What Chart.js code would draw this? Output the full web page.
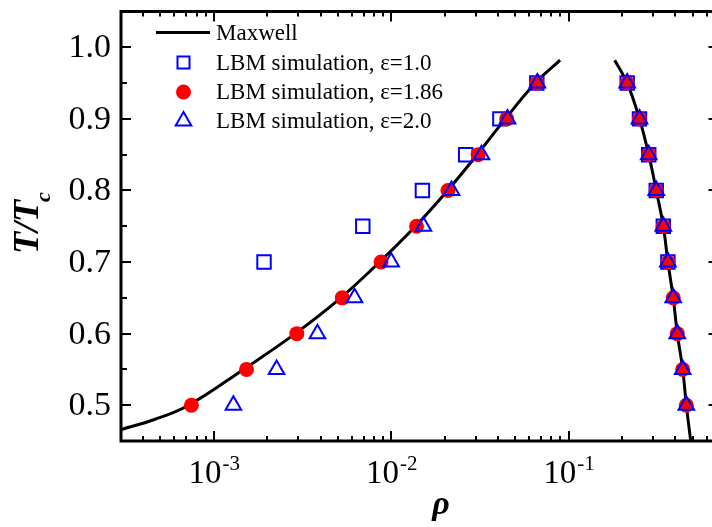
<!DOCTYPE html>
<html>
<head>
<meta charset="utf-8">
<script src="https://cdn.jsdelivr.net/npm/chart.js@4.4.0/dist/chart.umd.min.js"></script>
<style>
  html, body { margin: 0; padding: 0; background: #fff; overflow: hidden; }
  #wrap { width: 712px; height: 527px; overflow: hidden; }
  #coex { display: block; }
</style>
</head>
<body>
<div id="wrap"><canvas id="coex" width="730" height="527" style="width:730px;height:527px"></canvas></div>
<script>
// reduced temperature levels of the simulations
const T_LEVELS = [0.50, 0.55, 0.60, 0.65, 0.70, 0.75, 0.80, 0.85, 0.90, 0.95];
const T_LEVELS_EPS10 = [0.70, 0.75, 0.80, 0.85, 0.90, 0.95];

// liquid-side densities (all three runs sit on top of each other)
const RHO_LIQUID = [0.461, 0.440, 0.410, 0.389, 0.363, 0.342, 0.312, 0.283, 0.251, 0.214];
const RHO_LIQUID_EPS10 = [0.363, 0.342, 0.312, 0.283, 0.251, 0.214];

// vapor-side densities
const RHO_VAPOR_EPS10 = [1.92e-3, 6.92e-3, 1.50e-2, 2.63e-2, 4.10e-2, 6.62e-2];
const RHO_VAPOR_EPS186 = [7.48e-4, 1.53e-3, 2.94e-3, 5.30e-3, 8.77e-3, 1.39e-2, 2.09e-2, 3.09e-2, 4.48e-2, 6.62e-2];
const RHO_VAPOR_EPS20 = [1.29e-3, 2.26e-3, 3.84e-3, 6.22e-3, 1.00e-2, 1.52e-2, 2.19e-2, 3.23e-2, 4.53e-2, 6.67e-2];

// Maxwell construction, two branches
const MAXWELL_VAPOR_RHO = [3.0e-4, 4.63e-4, 7.22e-4, 1.47e-3, 2.88e-3, 5.20e-3, 8.60e-3, 1.37e-2, 2.08e-2, 3.05e-2, 4.40e-2, 6.50e-2, 8.96e-2];
const MAXWELL_VAPOR_T = [0.466, 0.480, 0.50, 0.55, 0.60, 0.65, 0.70, 0.75, 0.80, 0.85, 0.90, 0.95, 0.982];
const MAXWELL_LIQUID_RHO = [0.182, 0.214, 0.251, 0.283, 0.312, 0.342, 0.363, 0.389, 0.410, 0.440, 0.461, 0.488];
const MAXWELL_LIQUID_T = [0.982, 0.95, 0.90, 0.85, 0.80, 0.75, 0.70, 0.65, 0.60, 0.55, 0.50, 0.45];

// axis ticks
const X_MAJOR = [1e-3, 1e-2, 1e-1];
const X_EXP = ['-3', '-2', '-1'];
const Y_MAJOR = [0.5, 0.6, 0.7, 0.8, 0.9, 1.0];
const Y_MINOR = [0.55, 0.65, 0.75, 0.85, 0.95];

const LEGEND_LABELS = ['Maxwell', 'LBM simulation, \u03b5=1.0', 'LBM simulation, \u03b5=1.86', 'LBM simulation, \u03b5=2.0'];

const SERIF = '"Liberation Serif", "Times New Roman", serif';
const BLUE = '#0000ff';
const RED = '#ff0000';

function pts(xs, ys) {
  return xs.map((x, i) => ({ x, y: ys[i] }));
}

function both(vapor, liquid, tv, tl) {
  return pts(vapor, tv).concat(pts(liquid, tl));
}

const markerSets = [
  { label: LEGEND_LABELS[1], data: both(RHO_VAPOR_EPS10, RHO_LIQUID_EPS10, T_LEVELS_EPS10, T_LEVELS_EPS10),
    pointStyle: 'rect', pointRadius: 9.5, pointBorderWidth: 2, pointBorderColor: BLUE, pointBackgroundColor: 'rgba(0,0,0,0)', order: 3 },
  { label: LEGEND_LABELS[2], data: both(RHO_VAPOR_EPS186, RHO_LIQUID, T_LEVELS, T_LEVELS),
    pointStyle: 'circle', pointRadius: 7.5, pointBorderWidth: 0, pointBorderColor: RED, pointBackgroundColor: RED, order: 2 },
  { label: LEGEND_LABELS[3], data: both(RHO_VAPOR_EPS20, RHO_LIQUID, T_LEVELS, T_LEVELS),
    pointStyle: 'triangle', pointRadius: 9, pointBorderWidth: 2, pointBorderColor: BLUE, pointBackgroundColor: 'rgba(0,0,0,0)', order: 1 },
];

const curve = (data) => ({
  type: 'line', data, borderColor: '#000', borderWidth: 3, pointRadius: 0,
  tension: 0.4, fill: false, order: 4,
});

// frame, inward ticks, tick labels, axis titles and the legend
const frame = {
  id: 'frame',
  afterDraw(chart) {
    const { ctx, chartArea: a, scales: { x, y } } = chart;
    ctx.save();
    ctx.strokeStyle = '#000';
    ctx.fillStyle = '#000';

    ctx.lineWidth = 2;
    ctx.beginPath();
    for (let e = -4; e <= 0; e++) {
      for (let m = 1; m <= 9; m++) {
        const v = m * Math.pow(10, e);
        if (v < x.min || v > x.max) continue;
        const px = Math.round(x.getPixelForValue(v));
        const len = m === 1 ? 10 : 5;
        ctx.moveTo(px, a.bottom); ctx.lineTo(px, a.bottom - len);
        ctx.moveTo(px, a.top); ctx.lineTo(px, a.top + len);
      }
    }
    Y_MAJOR.concat(Y_MINOR).forEach(v => {
      const py = Math.round(y.getPixelForValue(v));
      const len = Y_MAJOR.includes(v) ? 10 : 6;
      ctx.moveTo(a.left, py); ctx.lineTo(a.left + len, py);
      ctx.moveTo(a.right, py); ctx.lineTo(a.right - len, py);
    });
    ctx.stroke();

    ctx.lineWidth = 3;
    ctx.strokeRect(a.left, a.top, a.right - a.left, a.bottom - a.top);

    // y tick labels
    ctx.font = '34px ' + SERIF;
    ctx.textAlign = 'right';
    ctx.textBaseline = 'middle';
    Y_MAJOR.forEach(v => ctx.fillText(v.toFixed(1), a.left - 10, y.getPixelForValue(v) + 1));

    // x tick labels, 10 with a raised exponent
    ctx.textAlign = 'left';
    ctx.textBaseline = 'alphabetic';
    X_MAJOR.forEach((v, i) => {
      const px = x.getPixelForValue(v);
      ctx.font = '33px ' + SERIF;
      const wb = ctx.measureText('10').width;
      ctx.font = '21px ' + SERIF;
      const ws = ctx.measureText(X_EXP[i]).width;
      const left = px - (wb + ws) / 2;
      ctx.font = '33px ' + SERIF;
      ctx.fillText('10', left, 483);
      ctx.font = '21px ' + SERIF;
      ctx.fillText(X_EXP[i], left + wb + 1, 470);
    });

    // axis titles
    ctx.font = 'italic bold 34px ' + SERIF;
    ctx.textAlign = 'center';
    ctx.fillText('\u03c1', 441, 514);

    ctx.save();
    ctx.translate(38, 254);
    ctx.rotate(-Math.PI / 2);
    ctx.textAlign = 'left';
    ctx.font = 'italic bold 36px ' + SERIF;
    ctx.fillText('T/T', 0, 0);
    const wt = ctx.measureText('T/T').width;
    ctx.font = 'italic bold 22px ' + SERIF;
    ctx.fillText('c', wt - 2, 12);
    ctx.restore();

    // legend
    const rowY = [32.5, 62.5, 92, 121];
    ctx.lineWidth = 3;
    ctx.beginPath();
    ctx.moveTo(156, rowY[0]); ctx.lineTo(210, rowY[0]);
    ctx.stroke();
    markerSets.forEach((ds, i) => {
      ctx.fillStyle = ds.pointBackgroundColor;
      ctx.strokeStyle = ds.pointBorderColor;
      ctx.lineWidth = ds.pointBorderWidth;
      Chart.helpers.drawPoint(ctx, {
        pointStyle: ds.pointStyle,
        radius: ds.pointStyle === 'rect' ? 8.5 : ds.pointRadius,
        rotation: 0,
        borderWidth: ds.pointBorderWidth,
      }, 183.5, rowY[i + 1]);
    });
    ctx.fillStyle = '#000';
    ctx.font = '23px ' + SERIF;
    ctx.textAlign = 'left';
    ctx.textBaseline = 'middle';
    LEGEND_LABELS.forEach((t, i) => ctx.fillText(t, 216, rowY[i] + 1));

    ctx.restore();
  },
};

new Chart(document.getElementById('coex'), {
  type: 'scatter',
  data: {
    datasets: [
      ...markerSets.map(ds => Object.assign({ showLine: false }, ds)),
      curve(pts(MAXWELL_VAPOR_RHO, MAXWELL_VAPOR_T)),
      curve(pts(MAXWELL_LIQUID_RHO.slice().reverse(), MAXWELL_LIQUID_T.slice().reverse())),
    ],
  },
  options: {
    responsive: false,
    animation: false,
    layout: { padding: { top: 5, right: 11, left: 0, bottom: 0 } },
    plugins: { legend: { display: false }, tooltip: { enabled: false } },
    scales: {
      x: {
        type: 'logarithmic', min: 3e-4, max: 0.7,
        grid: { display: false, drawTicks: false }, border: { display: false },
        ticks: { display: false },
        afterFit(s) { s.height = 86; },
      },
      y: {
        type: 'linear', min: 0.45, max: 1.05,
        grid: { display: false, drawTicks: false }, border: { display: false },
        ticks: { display: false },
        afterFit(s) { s.width = 121; },
      },
    },
  },
  plugins: [frame],
});
</script>
</body>
</html>
